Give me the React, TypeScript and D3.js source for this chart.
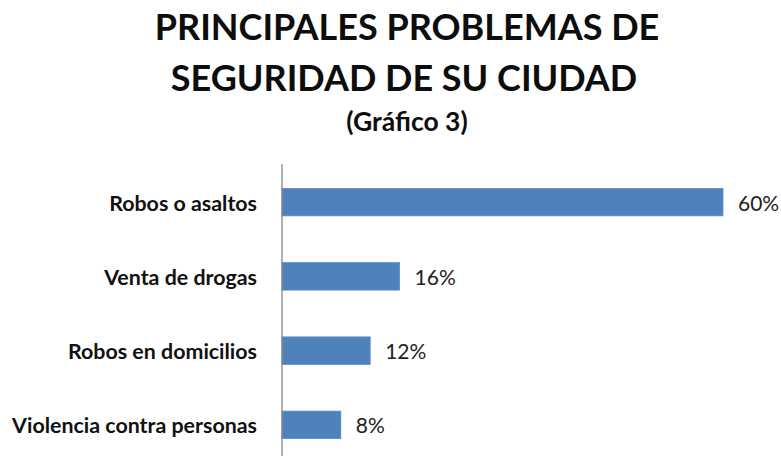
import React from "react";
import * as d3 from "d3";

const categories: string[] = [
  "Robos o asaltos",
  "Venta de drogas",
  "Robos en domicilios",
  "Violencia contra personas",
];
const values: number[] = [60, 16, 12, 8];
const valueLabels: string[] = ["60%", "16%", "12%", "8%"];
const titleLines: string[] = ["PRINCIPALES PROBLEMAS DE", "SEGURIDAD DE SU CIUDAD"];
const subtitle = "(Gráfico 3)";

const W = 781;
const H = 456;
const FONT = "Lato, 'Open Sans', 'DejaVu Sans', sans-serif";

export default function App() {
  const x = d3.scaleLinear().domain([0, 60]).range([282, 723]);
  const y = d3
    .scaleBand<string>()
    .domain(categories)
    .range([165, 462])
    .paddingInner(0.63)
    .paddingOuter(0.315);
  const bw = y.bandwidth();

  return (
    <svg
      width={W}
      height={H}
      style={{ position: "absolute", left: 0, top: 0, background: "#fff" }}
      fontFamily={FONT}
    >
      <rect x={0} y={0} width={W} height={H} fill="#ffffff" />
      <text x={407} y={40} textAnchor="middle" fontSize={36} fontWeight={700} fill="#0d0d0d">
        {titleLines[0]}
      </text>
      <text x={404} y={91} textAnchor="middle" fontSize={36} fontWeight={700} fill="#0d0d0d">
        {titleLines[1]}
      </text>
      <text x={407} y={131} textAnchor="middle" fontSize={26.5} fontWeight={700} fill="#0d0d0d">
        {subtitle}
      </text>

      {categories.map((c, i) => {
        const yc = (y(c) as number) + bw / 2;
        return (
          <g key={c}>
            <rect
              x={x(0)}
              y={y(c) as number}
              width={x(values[i]) - x(0)}
              height={bw}
              fill="#4F81BD"
              stroke="#5a8cc8"
              strokeWidth={0.8}
            />
            <text
              x={257}
              y={yc + 8.5}
              textAnchor="end"
              fontSize={21.4}
              fontWeight={700}
              fill="#111"
            >
              {c}
            </text>
            <text x={x(values[i]) + 15} y={yc + 8.5} fontSize={21} fill="#222">
              {valueLabels[i]}
            </text>
          </g>
        );
      })}

      <line x1={282} x2={282} y1={164} y2={462} stroke="#868686" strokeWidth={1.3} />
    </svg>
  );
}
